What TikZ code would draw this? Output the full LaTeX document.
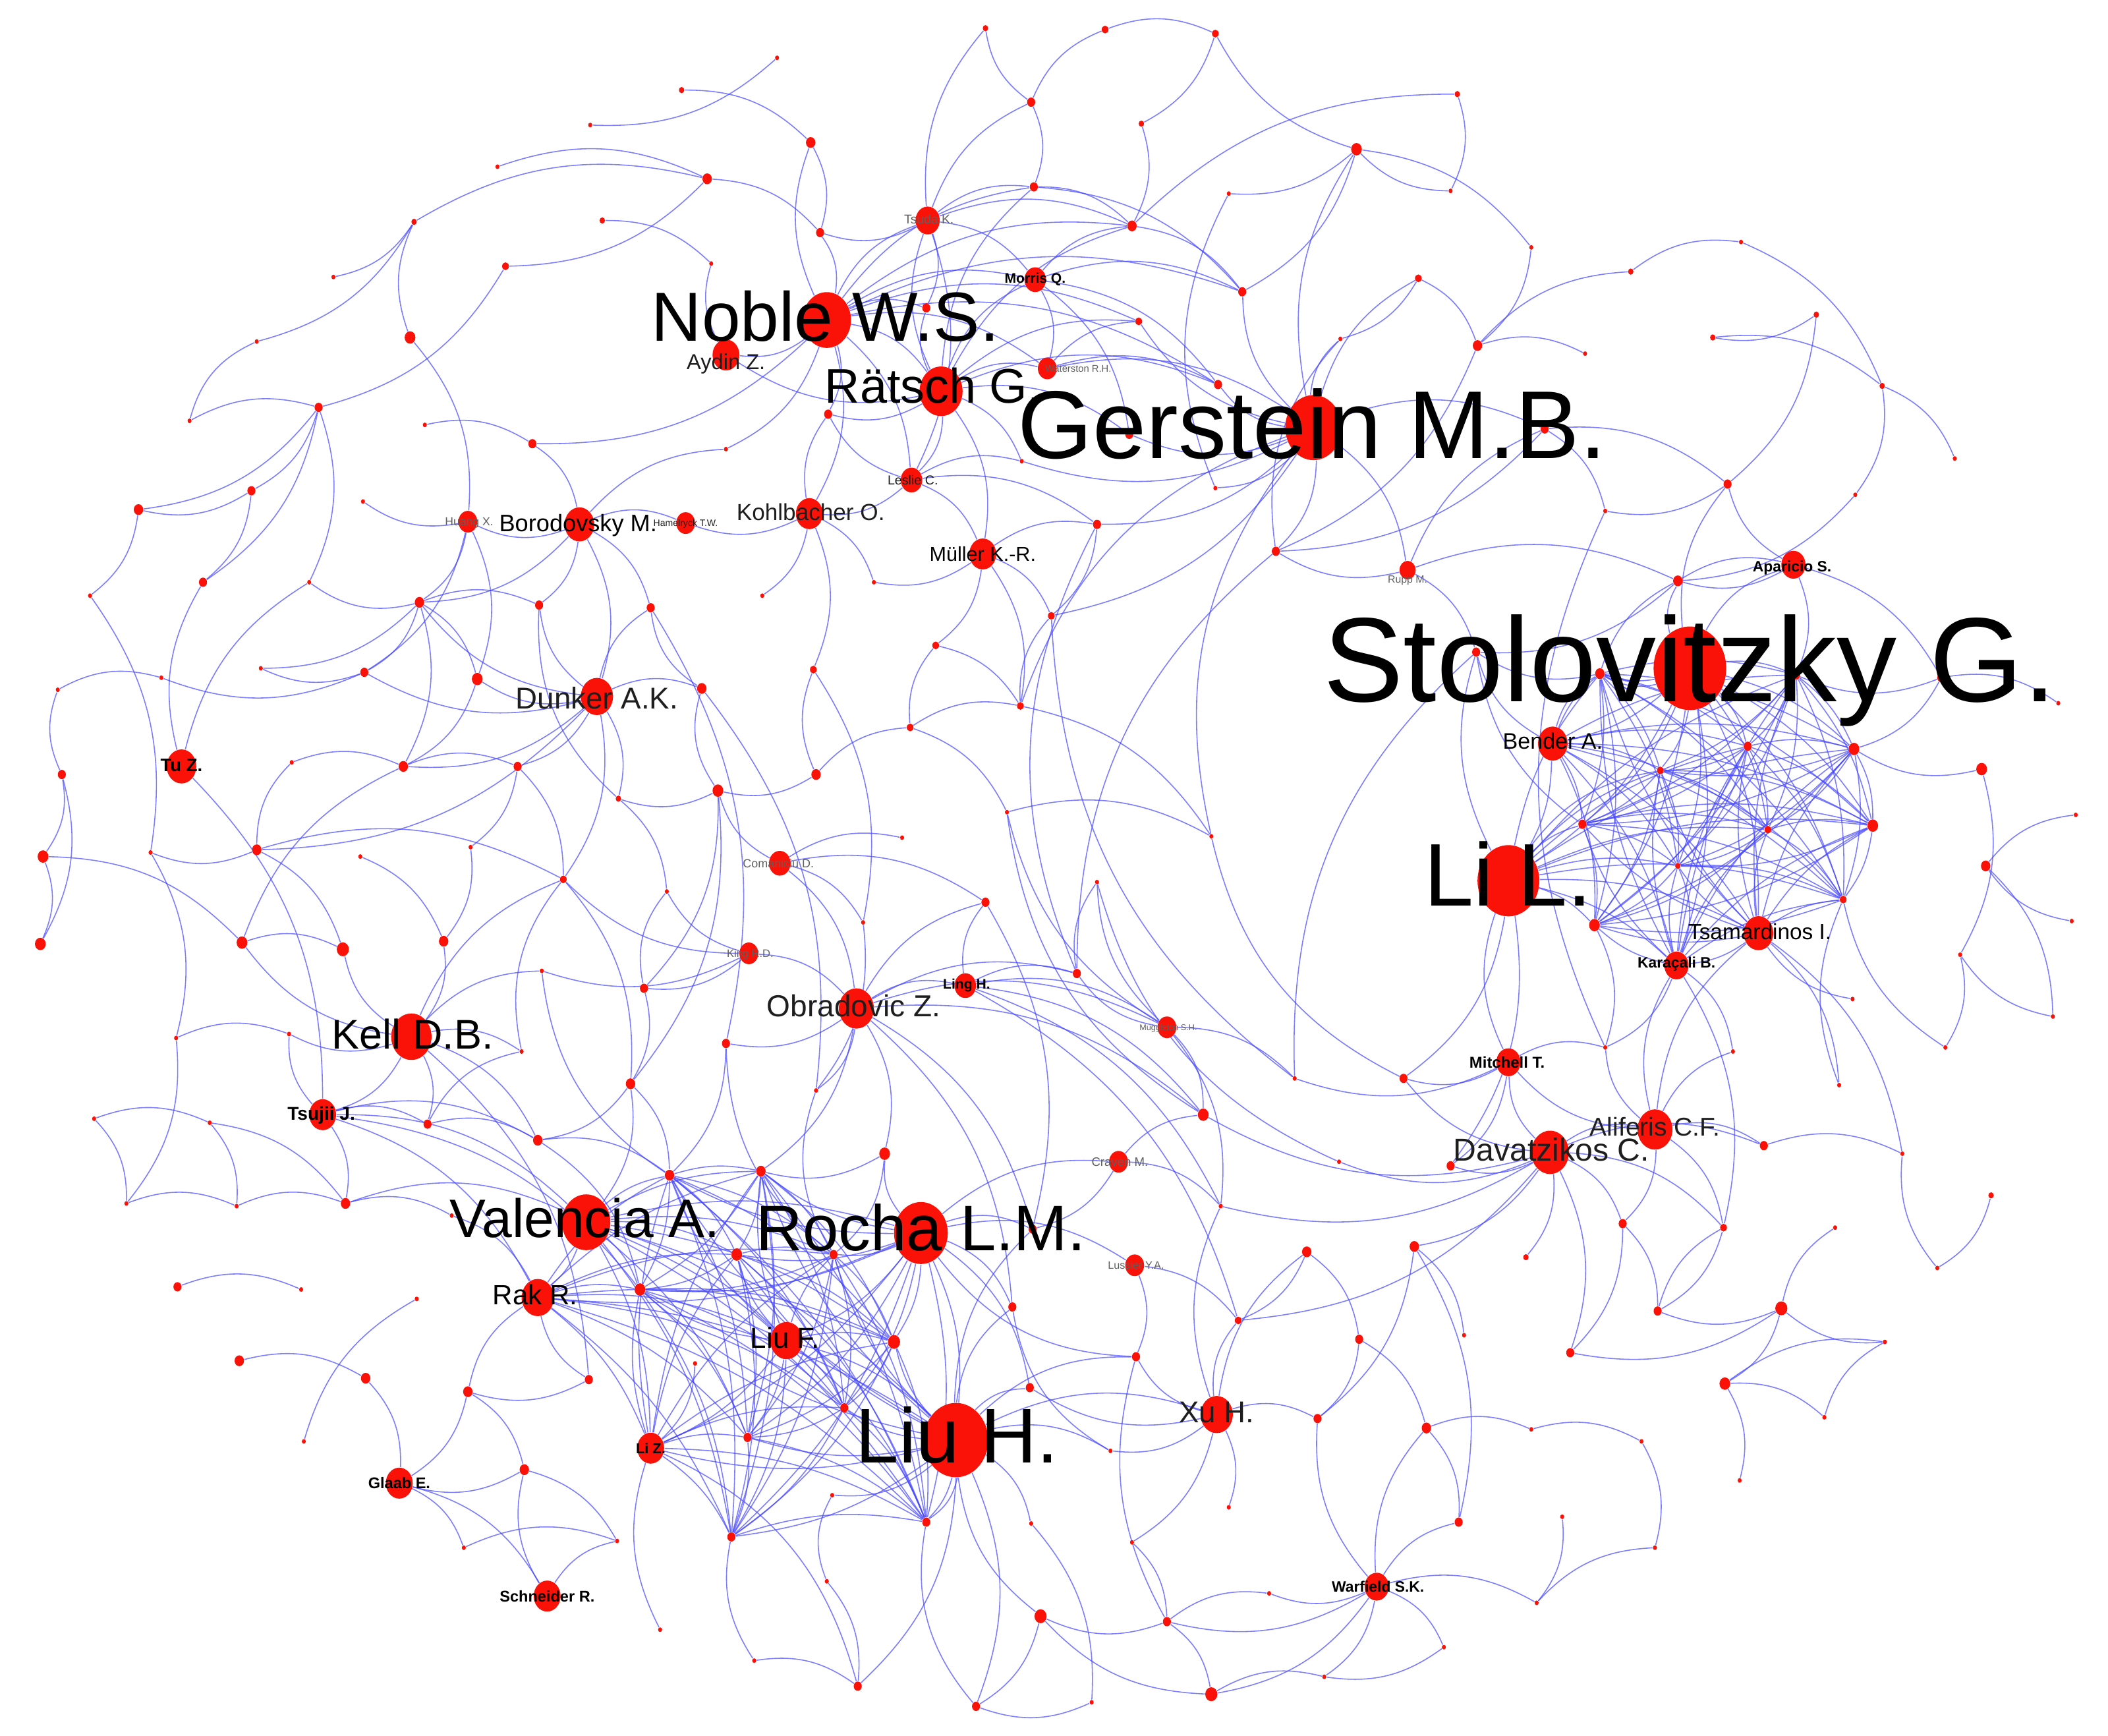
\documentclass[tikz,border=0pt]{standalone}
\usepackage{fontspec}
\setmainfont{Liberation Sans}
\usetikzlibrary{shapes.geometric}
\definecolor{nodered}{RGB}{250,18,8}
\definecolor{edgeblue}{RGB}{70,70,255}
\definecolor{lgray}{RGB}{95,95,95}
\definecolor{dgray}{RGB}{30,30,30}
\pgfdeclarelayer{bg}
\pgfdeclarelayer{edges}
\pgfsetlayers{bg,edges,main}
\tikzset{
  dot/.style={ellipse, fill=nodered, draw=none, inner sep=0pt},
  edge/.style={draw=edgeblue, draw opacity=0.7, line width=0.45pt},
  lbl/.style={anchor=base, inner sep=0pt}
}
\begin{document}
\begin{tikzpicture}[x=0.0204cm, y=-0.0204cm]
\begin{pgfonlayer}{bg}
\fill[white] (0,0) rectangle (1568,1291);
\end{pgfonlayer}
\useasboundingbox (0,0) rectangle (1568,1291);
% ---------------- nodes ----------------
\foreach \n/\x/\y/\r in {
NO/615/238/18, RA/700/291/16, GE/977/318/21, ST/1257/497/27, LL/1122/655/23,
LH/711/1071/24, RO/685/917/20, VA/436/909/18, OB/637/750/13, KE/306/771/15,
DU/444/518/12, DA/1153/857/14, AL/1231/840/13, XU/905/1052/12, BO/431/390/11,
KO/602/382/10, MU/731/412/10, RK/400/965/12, LF/585/997/12, TS/1308/694/11,
BE/1155/553/11, KA/1247/718/9, AP/1334/420/9, MI/1122/790/9, TU/135/570/11,
TJ/240/829/10, GL/297/1103/10, SC/407/1187/10, WA/1024/1180/9, LZ/484/1077/10,
AY/540/264/10, TK/690/164/9, MQ/770/208/8, WR/779/274/7, LC/678/357/8,
HX/348/388/7, HT/510/389/7, CD/580/642/8, KR/557/709/7, LG/718/733/8,
MS/868/764/7, CM/832/864/7, LY/844/941/7, RU/1047/424/6}
  \node[dot, minimum width=\r*0.0408cm, minimum height=\r*0.047cm] (\n) at (\x,\y) {};
\foreach \n/\x/\y/\r in {
a1/733/21/2, a2/822/22/2.5, a3/904/25/2.5, a4/578/43/1.5, a5/507/67/2, a6/767/76/3,
a7/439/93/1.5, a8/849/92/2, a9/603/106/3.5, a10/1084/70/2, a11/370/124/1.5, a12/526/133/3.5,
a13/769/139/3, a14/914/144/1.5, a15/1079/142/1.5, a16/308/165/2, a17/448/164/2, a18/610/173/3,
a19/842/168/3.5, a20/1009/111/4, a21/1139/184/1.5, a22/1295/180/1.5, a23/376/198/2.5, a24/529/196/1.5,
a25/1213/202/2, a26/1055/207/2.5, a27/248/206/1.5, a28/924/217/3, a29/689/229/3, a30/847/239/2.5,
a31/1351/234/2, a32/1274/251/2, a33/191/254/1.5, a34/305/251/4, a35/1099/257/3.5, a36/1179/263/1.5,
a37/997/252/1.5, a38/906/286/3, a39/1400/287/2, a40/237/303/3, a41/141/313/1.5, a42/616/308/3,
a43/1149/319/3, a44/540/334/1.5, a45/316/316/1.5, a46/396/330/3, a47/760/343/1.5, a48/840/323/3,
a49/1454/341/1.5, a50/1285/360/3, a51/904/363/1.5, a52/1380/368/1.5, a53/1194/380/1.5, a54/187/365/3,
a55/103/379/3.5, a56/270/373/1.5, a57/949/410/3, a58/816/390/3, a59/1248/432/3.5, a60/151/433/3,
a61/67/443/1.5, a62/230/433/1.5, a63/312/448/3.5, a64/401/450/3, a65/484/452/3, a66/567/443/1.5,
a67/650/433/1.5, a68/782/458/2.5, a69/696/480/2.5, a70/1098/485/3, a71/1190/501/3.5, a72/1336/502/3,
a73/1444/504/3, a74/605/498/2.5, a75/759/525/2.5, a76/677/541/2.5, a77/271/500/3, a78/355/505/4,
a79/522/512/3.5, a80/43/513/1.5, a81/120/504/1.5, a82/194/497/1.5, a83/1300/555/3, a84/1379/557/4,
a85/1235/573/2.5, a86/1474/572/4, a87/1531/523/1.5, a88/46/576/3, a89/217/567/1.5, a90/300/570/3.5,
a91/385/570/3, a92/460/594/2, a93/534/588/4, a94/607/576/3.5, a95/1177/613/3, a96/1315/617/2.5,
a97/1393/614/4, a98/1544/606/1.5, a99/1248/644/2, a100/1371/669/2.5, a101/1186/688/4, a102/1477/644/3.5,
a103/1541/685/1.5, a104/191/632/3.5, a105/112/634/1.5, a106/350/630/1.5, a107/268/637/1.5, a108/32/637/4,
a109/419/654/2.5, a110/496/663/1.5, a111/642/686/1.5, a112/671/623/1.5, a113/749/604/1.5, a114/733/671/3,
a115/801/724/3, a116/901/622/1.5, a117/816/656/1.5, a118/30/702/4, a119/180/701/4, a120/255/706/4.5,
a121/330/700/3.5, a122/403/722/1.5, a123/479/735/3, a124/540/776/3, a125/469/806/3.5, a126/607/811/1.5,
a127/215/769/1.5, a128/131/772/1.5, a129/388/782/1.5, a130/1378/743/1.5, a131/1458/710/1.5, a132/1527/756/1.5,
a133/1447/779/1.5, a134/1194/779/1.5, a135/1289/782/1.5, a136/1044/802/3, a137/963/802/1.5, a138/1368/807/1.5,
a139/70/832/1.5, a140/156/835/1.5, a141/318/836/3, a142/400/848/3.5, a143/895/829/4, a144/658/858/4,
a145/498/874/3.5, a146/566/871/3.5, a147/996/864/1.5, a148/1079/867/3, a149/1312/852/3, a150/1415/858/1.5,
a151/94/895/1.5, a152/176/897/1.5, a153/257/895/3.5, a154/336/904/1.5, a155/908/897/1.5, a156/548/933/4,
a157/620/933/3, a158/768/914/3, a159/1207/910/3, a160/1282/913/2.5, a161/1441/943/1.5, a162/1481/889/2,
a163/1365/913/1.5, a164/972/931/3.5, a165/1052/927/3.5, a166/1135/935/2, a167/132/957/3, a168/224/959/1.5,
a169/310/966/1.5, a170/476/959/4, a171/753/972/3, a172/921/982/2.5, a173/1233/975/3, a174/1325/973/4.5,
a175/178/1012/3.5, a176/272/1025/3.5, a177/348/1035/3.5, a178/438/1026/3, a179/517/1014/1.5, a180/665/998/4.5,
a181/1011/996/3, a182/1089/993/1.5, a183/845/1009/3, a184/1168/1006/3, a185/1283/1029/4, a186/1402/998/1.5,
a187/628/1047/3, a188/556/1069/3, a189/766/1032/3, a190/826/1079/1.5, a191/980/1055/3, a192/1061/1062/3.5,
a193/1139/1063/1.5, a194/1221/1072/1.5, a195/1357/1054/1.5, a196/226/1072/1.5, a197/390/1093/3.5, a198/1294/1101/1.5,
a199/914/1121/1.5, a200/345/1151/1.5, a201/459/1146/1.5, a202/544/1143/3, a203/619/1112/1.5, a204/689/1132/3,
a205/767/1133/1.5, a206/842/1147/1.5, a207/1085/1132/3, a208/1162/1128/1.5, a209/1231/1151/1.5, a210/615/1176/1.5,
a211/491/1212/1.5, a212/561/1235/1.5, a213/638/1254/3, a214/726/1269/3, a215/812/1266/1.5, a216/868/1206/3,
a217/944/1185/1.5, a218/1143/1192/1.5, a219/1074/1225/1.5, a220/985/1247/1.5, a221/901/1260/4.5, a222/774/1202/4.5}
  \node[dot, minimum width=\r*0.0408cm, minimum height=\r*0.047cm] (\n) at (\x,\y) {};
% ---------------- edges ----------------
\begin{pgfonlayer}{edges}
\foreach \a/\b in {
a5/a9, a4/a7, a9/a18, a18/NO, a16/a12, a12/a23, a12/a18, a11/a12, a16/a27, a16/a33, a23/a40, a40/a54,
a40/a55, a40/a60, a41/a40, a40/a62, a54/a55, a54/a60, a55/a61, a34/HX, a34/a16, a46/BO, a17/a24, AY/a24,
NO/TK, NO/RA, NO/a29, NO/a42, NO/AY, NO/MQ, NO/WR, NO/LC, NO/a13, NO/a19, NO/a30, NO/a28, NO/a38,
NO/a44, NO/a9, NO/KO, NO/a46,
RA/TK, RA/MQ, RA/WR, RA/LC, RA/MU, RA/a29, RA/a38, RA/a30, RA/a48, RA/a47, RA/a42, RA/AY, RA/a19, RA/a13,
TK/a13, TK/a6, TK/a18, TK/MQ, TK/a29, TK/LC, TK/a1, TK/a19,
a6/a1, a6/a13, a6/a2, a2/a3, a3/a8, a8/a19, a13/a19, a13/a28, a19/a28, a19/a10, a10/a15, a15/a20,
a20/a3, a20/a28, a20/a14, a20/a21, a21/a35, a26/a35, a26/a37, a35/a36, a35/a57, a35/a25, a25/a22,
a22/a39, a31/a32, a32/a39, a39/a49, a39/a52, a52/a59, a31/a50, a50/a53, a59/AP, a59/a70,
MQ/a19, MQ/a28, MQ/WR, MQ/a38, MQ/a48, WR/a30, WR/a38, WR/GE,
GE/a38, GE/a48, GE/a57, GE/a28, GE/a30, GE/a37, GE/a43, GE/RU, GE/a51, GE/a26, GE/a20, GE/a68, GE/a58, GE/a47,
a43/a53, a43/a50, a43/a57, RU/a57, RU/a59, RU/a70, RU/a43,
LC/KO, LC/MU, LC/a47, LC/a42, LC/a58, KO/HT, KO/a66, KO/a74, KO/a42, KO/a67,
MU/a69, MU/a68, MU/a58, MU/a75, MU/a67,
BO/HX, BO/HT, BO/a64, BO/a63, BO/DU, BO/a65, BO/a44, HX/a63, HX/a77, HX/a78, HX/a56,
DU/a78, DU/a79, DU/a77, DU/a63, DU/a64, DU/a91, DU/a92, DU/a90, DU/a65, DU/a104, DU/a109,
a63/a64, a63/a78, a63/a77, a63/a82, a63/a90, a77/a81, a77/a82, a78/a90, a91/a106, a91/a109,
TU/TJ, TU/a60, TU/a62,
a88/a80, a88/a108, a88/a118, a108/a118, a108/a119, a119/a120, a119/a90, a104/a89, a104/a105, a104/a109,
a104/a120, a89/a90, a90/a91, a107/a121, a106/a121, a121/KE,
KE/a120, KE/a119, KE/TJ, KE/a141, KE/a142, KE/a129, KE/a122, KE/a127, KE/a178, KE/a109,
TJ/a127, TJ/a153, TJ/a141, TJ/a142, TJ/VA, TJ/RK, TJ/a170,
a139/a140, a139/a151, a140/a152, a151/a152, a152/a153, a140/a153, a128/a127,
a141/a142, a142/a145, a142/a170, a153/a154, a153/VA, a154/RK,
a167/a168, a175/a176, a176/GL, a177/GL, a177/a197, a177/RK, a197/a201, a197/GL, a196/a169, GL/SC,
GL/a200, a200/a201, SC/a201, SC/a197, a178/RK, a178/a177,
a123/a125, a125/a145, a125/VA, a125/a142, a124/a145, KR/a110, KR/a123, KR/a109, KR/OB, KR/a122,
OB/LG, OB/a124, OB/a114, OB/a126, OB/a158, OB/a171, OB/a144, OB/a115, OB/MS, OB/a143, OB/a146,
CD/a93, CD/a111, CD/a112, CD/a114, CD/OB,
LG/a115, LG/a114, LG/MS, LG/a143, LG/a172, LG/a155,
MS/a115, MS/a143, MS/a117, MS/a113, MS/a137, MS/a155,
a93/a92, a93/a123, a93/a125, a94/a74, a94/a76, a94/a93, a76/a69, a76/a75, a76/a113, a75/a68, a75/a116,
a113/a116, a115/a117,
DA/MI, DA/AL, DA/a136, DA/a148, DA/a159, DA/a165, DA/a166, DA/a184, DA/a143, DA/a160, DA/a149,
DA/a147, DA/a172, DA/a155,
AL/MI, AL/a159, AL/a160, AL/a149, AL/a134, AL/KA, AL/TS, AL/a135,
MI/a136, MI/LL, MI/a134, MI/a148, MI/a137,
a149/a150, a159/a173, a159/a184, a160/a173,
XU/a183, XU/a172, XU/a191, XU/a199, XU/a189, XU/a164, XU/a206, XU/a190, XU/a155,
a164/a181, a164/a172, a165/a182, a165/a191, a165/a207, a181/a191, a181/a192, a192/a207, a192/a193,
a193/a194, a194/a209, a208/a218,
WA/a207, WA/a216, WA/a217, WA/a221, WA/a218, WA/a219, WA/a220, WA/a192, WA/a191,
a216/a221, a216/a222, a216/a217, a216/a183, a221/a220, a222/LH, a222/a214, a221/a222,
a174/a185, a174/a173, a174/a184, a174/a163, a185/a195, a185/a198, a173/a160, a162/a161, a186/a174, a185/a186,
a86/a84, a86/a131, a102/a98, a102/a132, a73/a72, a73/a87, a73/a84, a130/TS, a133/a100, a138/a100,
LL/a136, LL/a148, LL/a70, LL/a85, KA/a134, KA/a135, KA/a160, TS/a138, TS/a150,
LH/a189, LH/a190, LH/XU, LH/a205, LH/a204, LH/a214, LH/a213, LH/a203, LH/a171, LH/a158, LH/a183,
RO/a158, RO/a171, RO/LY, RO/CM, RO/a144, RO/a189,
LY/a183, LY/a172, CM/a155, CM/a158, CM/a143, a144/a146, a144/a157,
a79/a126, a92/a110, a109/a125, a65/a124, a74/a111, a114/a158, a111/a126,
a71/a59, a71/a70, AP/a72, AP/a59, AP/a50, AP/a73, ST/a59, ST/AP, ST/a50, ST/a71,
a58/a68, a69/a75, a101/a134, a99/KA, a95/a70, BE/a70, BE/a71, a45/a46, a179/LZ,
a61/a105, a105/a128, a128/a151, a80/a81, a131/a133, a132/a131, a103/a102, a161/a150, a195/a186,
a212/a213, a210/a213, a215/a214, a205/a215, a206/a216, a219/a220, a218/a209, a211/LZ, a212/a202}
  \draw[edge] (\a) to[bend left=22] (\b);
\foreach \a/\b in {
GE/a75, a57/a115, a68/a137, a116/a136, a117/a147, a113/a143, a126/a157, a124/a157, a110/a123,
a122/a145, a129/a141, a109/a129, GE/a116, a58/a115, a70/a137, a53/a134, a37/a57, a14/a51,
RO/a183, a171/a190, a203/a210, a213/LZ, a204/a214, a79/a93, a65/a79, a64/a92, a33/a41, a62/a63}
  \draw[edge] (\a) to[bend right=25] (\b);
% dense cluster around Valencia / Rocha / Liu
\foreach \u [count=\i] in {VA,RO,RK,LF,LH,LZ,a145,a146,a156,a157,a170,a180,a187,a188,a202,a204}{
  \foreach \v [count=\j] in {VA,RO,RK,LF,LH,LZ,a145,a146,a156,a157,a170,a180,a187,a188,a202,a204}{
    \ifnum\i<\j \draw[edge] (\u) to[bend left=14] (\v); \fi}}
% dense cluster around Stolovitzky / Li
\foreach \u [count=\i] in {ST,BE,LL,TS,KA,a71,a72,a83,a84,a85,a95,a96,a97,a99,a100,a101}{
  \foreach \v [count=\j] in {ST,BE,LL,TS,KA,a71,a72,a83,a84,a85,a95,a96,a97,a99,a100,a101}{
    \ifnum\i<\j \draw[edge] (\u) to[bend left=14] (\v); \fi}}
\end{pgfonlayer}
% ---------------- labels ----------------
\foreach \x/\y/\fs/\c/\t in {
694/287/21/black/{Rätsch G.},
614/235/30/black/{Noble W.S.},
976/315/41.6/black/{Gerstein M.B.},
1257/490/51.8/black/{Stolovitzky G.},
1122/650/38.4/black/{Li L.},
712/1067/33.5/black/{Liu H.},
685/913/27.8/black/{Rocha L.M.},
435/906/23.4/black/{Valencia A.},
635/748/13.1/dgray/{Obradovic Z.},
307/769/17.9/black/{Kell D.B.},
444/519/13/dgray/{Dunker A.K.},
1154/855/13.7/dgray/{Davatzikos C.},
1231/838/11.1/dgray/{Aliferis C.F.},
905/1050/13/dgray/{Xu H.},
430/389/10.3/black/{Borodovsky M.},
603/381/10/dgray/{Kohlbacher O.},
731/412/8.7/black/{Müller K.-R.},
398/963/12/black/{Rak R.},
584/995/12.5/black/{Liu F.},
1309/693/9.5/black/{Tsamardinos I.},
1155/551/9.7/black/{Bender A.},
1247/716/6.5/black/{\bfseries Karaçali B.},
1333/421/6.5/black/{\bfseries Aparicio S.},
1121/790/6.8/black/{\bfseries Mitchell T.},
135/569/7.8/black/{\bfseries Tu Z.},
239/828/8/black/{\bfseries Tsujii J.},
297/1103/6.7/black/{\bfseries Glaab E.},
407/1187/6.7/black/{\bfseries Schneider R.},
1025/1180/6.5/black/{\bfseries Warfield S.K.},
484/1077/6.2/black/{\bfseries Li Z.},
540/269/9.3/dgray/{Aydin Z.},
691/163/5.5/lgray/{Tsuda K.},
770/207/6/black/{\bfseries Morris Q.},
802/274/4.2/lgray/{Waterston R.H.},
679/357/5.6/dgray/{Leslie C.},
349/388/5/lgray/{Huang X.},
510/389/4/dgray/{Hamelryck T.W.},
579/642/5.1/lgray/{Comaniciu D.},
558/709/4.7/lgray/{King R.D.},
719/732/6/black/{\bfseries Ling H.},
869/764/3.6/lgray/{Muggleton S.H.},
833/864/5.3/lgray/{Craven M.},
845/941/4.6/lgray/{Lussier Y.A.},
1047/431/4.5/lgray/{Rupp M.}}
  \node[lbl, text=\c, font=\fontsize{\fs}{\fs}\selectfont] at (\x,{\y+0.617*\fs}) {\t};
\end{tikzpicture}
\end{document}
